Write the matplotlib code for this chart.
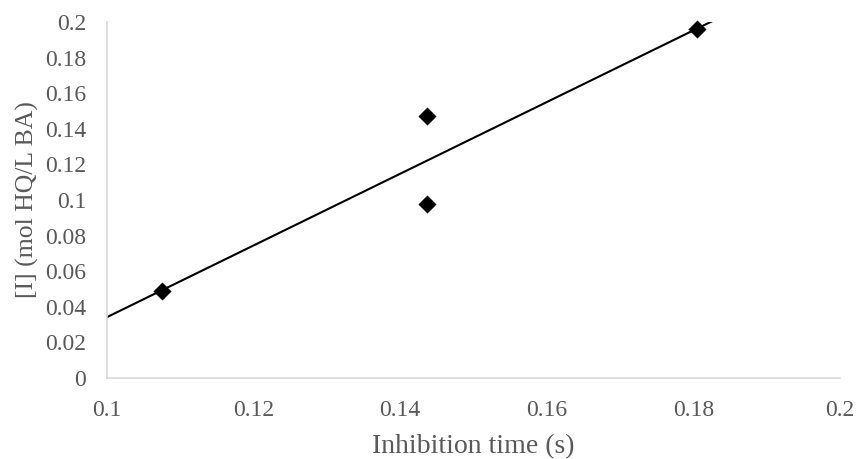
import numpy as np
import matplotlib.pyplot as plt

# inhibition time vs inhibitor concentration
t_inh = [0.1075, 0.1437, 0.1437, 0.1805]
conc = [0.049, 0.147, 0.098, 0.196]

xticks = [0.1, 0.12, 0.14, 0.16, 0.18, 0.2]
yticks = [0, 0.02, 0.04, 0.06, 0.08, 0.1, 0.12, 0.14, 0.16, 0.18, 0.2]

plt.rcParams['font.family'] = ['Liberation Serif', 'DejaVu Serif']

fig = plt.figure(figsize=(8.57, 4.59), dpi=100)
ax = fig.add_axes([107/857, 1-378/459, 733/857, 356/459])

ax.scatter(t_inh, conc, marker='D', s=85, color='black', lw=0, zorder=3, clip_on=False)

# least squares trendline
m, b = np.polyfit(t_inh, conc, 1)
xl = np.array([0.1, 0.2])
ax.plot(xl, m*xl + b, color='black', lw=1.5)

ax.set_xlim(0.1, 0.2)
ax.set_ylim(0, 0.2)
ax.set_xticks(xticks)
ax.set_yticks(yticks)
ax.set_xticklabels([f'{v:g}' for v in xticks])
ax.set_yticklabels([f'{v:g}' for v in yticks])
ax.tick_params(length=0, labelsize=17, colors='#595959')
ax.tick_params(axis='x', pad=15.5)
ax.tick_params(axis='y', pad=15)

for s in ['top', 'right']:
    ax.spines[s].set_visible(False)
for s in ['left', 'bottom']:
    ax.spines[s].set_color('#d9d9d9')
    ax.spines[s].set_linewidth(1.2)

ax.set_xlabel('Inhibition time (s)', fontsize=20, color='#595959', labelpad=10)
ax.set_ylabel('[I] (mol HQ/L BA)', fontsize=18.5, color='#595959', labelpad=4)

fig.savefig('out.png', dpi=100)
